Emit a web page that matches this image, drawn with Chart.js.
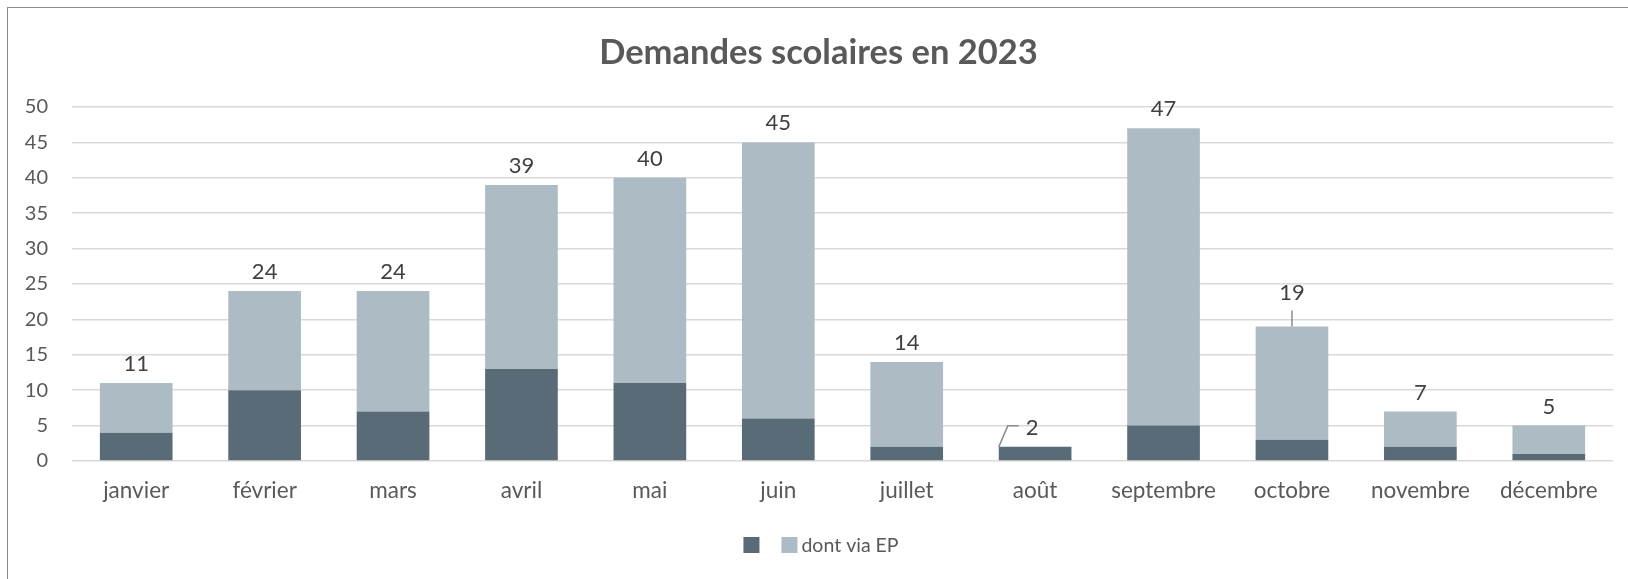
<!DOCTYPE html>
<html lang="fr">
<head>
<meta charset="utf-8">
<title>Demandes scolaires en 2023</title>
<script src="https://cdn.jsdelivr.net/npm/chart.js@4.4.1/dist/chart.umd.min.js"></script>
<style>
  html, body { margin: 0; padding: 0; background: #fff; overflow: hidden; }
  #wrap { position: relative; width: 1628px; height: 579px; }
  #frame {
    position: absolute; left: 7px; top: 7px; width: 1700px; height: 700px;
    border: 1.5px solid #8c8c8c; box-sizing: border-box;
  }
  #chart { position: absolute; left: 0; top: 0; }
</style>
</head>
<body>
<div id="wrap">
  <div id="frame"></div>
  <canvas id="chart" width="1628" height="579"></canvas>
</div>
<script>
// données
const months = ['janvier', 'février', 'mars', 'avril', 'mai', 'juin', 'juillet', 'août', 'septembre', 'octobre', 'novembre', 'décembre'];
const darkValues = [4, 10, 7, 13, 11, 6, 2, 2, 5, 3, 2, 1];
const epValues = [7, 14, 17, 26, 29, 39, 12, 0, 42, 16, 5, 4];
const totals = [11, 24, 24, 39, 40, 45, 14, 2, 47, 19, 7, 5];
const yMax = 50;
const yStep = 5;

const COLORS = {
  DARK: '#586B76',
  LIGHT: '#ADBBC4',
  TEXT: '#595959',
  LABEL: '#404040',
  GRID: '#D9D9D9'
};
const FONT = 'Lato, "Open Sans", sans-serif';

// étiquettes des totaux au-dessus des barres
const totalLabels = {
  id: 'totalLabels',
  afterDatasetsDraw(chart, args, opts) {
    const ctx = chart.ctx;
    const meta = chart.getDatasetMeta(chart.data.datasets.length - 1);
    ctx.save();
    ctx.font = '22px ' + FONT;
    ctx.fillStyle = COLORS.LABEL;
    ctx.textAlign = 'center';
    ctx.textBaseline = 'middle';
    ctx.strokeStyle = '#8c8c8c';
    ctx.lineWidth = 1.5;
    meta.data.forEach((bar, i) => {
      const top = bar.y;
      const style = opts.callouts[i];
      if (style === 'left') {
        const x0 = bar.x - bar.width / 2;
        ctx.beginPath();
        ctx.moveTo(x0, top);
        ctx.lineTo(x0 + 9, top - 21);
        ctx.lineTo(x0 + 20, top - 21);
        ctx.stroke();
        ctx.fillText(totals[i], bar.x - 3, top - 19);
      } else if (style === 'up') {
        ctx.beginPath();
        ctx.moveTo(bar.x, top);
        ctx.lineTo(bar.x, top - 16);
        ctx.stroke();
        ctx.fillText(totals[i], bar.x, top - 34);
      } else {
        ctx.fillText(totals[i], bar.x, top - 19);
      }
    });
    ctx.restore();
  }
};

// légende compacte, comme dans Excel
const compactLegend = {
  id: 'compactLegend',
  afterDraw(chart, args, opts) {
    const ctx = chart.ctx;
    const sets = chart.data.datasets;
    const box = 16;
    ctx.save();
    ctx.font = '19.5px ' + FONT;
    ctx.textBaseline = 'middle';
    ctx.textAlign = 'left';
    const items = sets.map(ds => ({
      color: ds.backgroundColor,
      text: ds.label,
      w: box + (ds.label ? 4 + ctx.measureText(ds.label).width : 0)
    }));
    const total = items.reduce((a, it) => a + it.w, 0) + opts.gap * (items.length - 1);
    let x = opts.centerX - total / 2;
    items.forEach(it => {
      ctx.fillStyle = it.color;
      ctx.fillRect(x, opts.y - box / 2, box, box);
      if (it.text) {
        ctx.fillStyle = COLORS.TEXT;
        ctx.fillText(it.text, x + box + 4, opts.y + 1);
      }
      x += it.w + opts.gap;
    });
    ctx.restore();
  }
};

new Chart(document.getElementById('chart'), {
  type: 'bar',
  data: {
    labels: months,
    datasets: [{
      label: '',
      data: darkValues,
      backgroundColor: COLORS.DARK,
      barPercentage: 0.566,
      categoryPercentage: 1
    }, {
      label: 'dont via EP',
      data: epValues,
      backgroundColor: COLORS.LIGHT,
      barPercentage: 0.566,
      categoryPercentage: 1
    }]
  },
  options: {
    responsive: false,
    animation: false,
    layout: { padding: { left: 24, right: 15, top: 0, bottom: 48 } },
    plugins: {
      title: {
        display: true,
        text: 'Demandes scolaires en 2023',
        color: COLORS.TEXT,
        font: { family: FONT, size: 34.5, weight: 'bold', lineHeight: 1.2 },
        padding: { top: 32, bottom: 33.6 }
      },
      legend: { display: false },
      tooltip: { enabled: false },
      totalLabels: { callouts: { 7: 'left', 9: 'up' } },
      compactLegend: { centerX: 821, y: 545, gap: 22 }
    },
    scales: {
      x: {
        stacked: true,
        grid: { display: false, drawTicks: false },
        border: { display: false },
        ticks: { color: COLORS.TEXT, font: { family: FONT, size: 22.5 }, padding: 16 },
        afterFit(scale) { scale.height = 70; }
      },
      y: {
        stacked: true,
        min: 0,
        max: yMax,
        grid: { color: COLORS.GRID, lineWidth: 1.5, drawTicks: false },
        border: { display: false },
        ticks: {
          stepSize: yStep,
          color: COLORS.TEXT,
          font: { family: FONT, size: 20 },
          padding: 24
        },
        afterFit(scale) { scale.width = 48; }
      }
    }
  },
  plugins: [totalLabels, compactLegend]
});
</script>
</body>
</html>
